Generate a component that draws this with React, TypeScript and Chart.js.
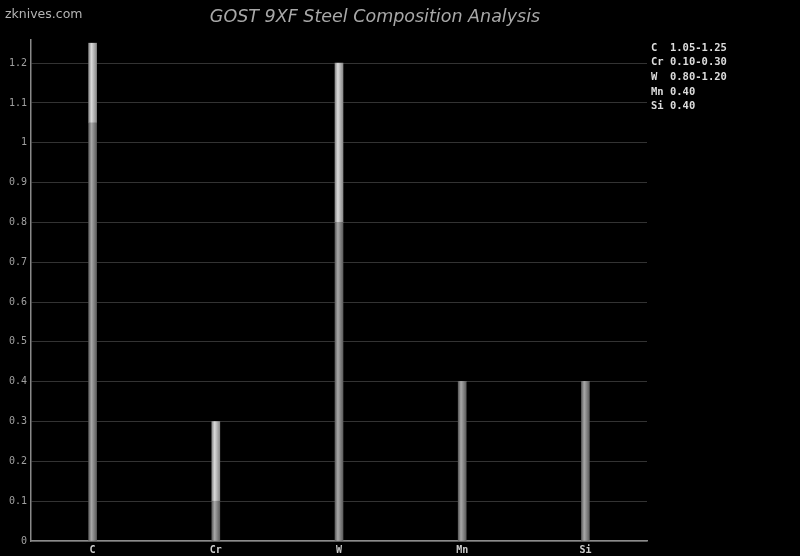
import React, { useEffect, useRef } from "react";
import { Chart, registerables } from "chart.js";

Chart.register(...registerables);

const chartTitle = "GOST 9XF Steel Composition Analysis";
const watermark = "zknives.com";
const categories = ["C", "Cr", "W", "Mn", "Si"];
const minValues = [1.05, 0.1, 0.8, 0.4, 0.4];
const maxValues = [1.25, 0.3, 1.2, 0.4, 0.4];
const legendTexts = ["1.05-1.25", "0.10-0.30", "0.80-1.20", "0.40", "0.40"];
const yTicks = [0, 0.1, 0.2, 0.3, 0.4, 0.5, 0.6, 0.7, 0.8, 0.9, 1, 1.1, 1.2];

const BAR_W = 8;

function makeGradient(ctx: any, dark: string, mid: string, light: string) {
  const chart = ctx.chart;
  const xs = chart.scales?.x;
  if (!xs || !chart.chartArea) return mid;
  const cx = xs.getPixelForValue(ctx.dataIndex);
  if (!isFinite(cx)) return mid;
  const g = chart.ctx.createLinearGradient(cx - BAR_W / 2, 0, cx + BAR_W / 2, 0);
  g.addColorStop(0, dark);
  g.addColorStop(0.35, light);
  g.addColorStop(0.6, mid);
  g.addColorStop(1, dark);
  return g;
}

const textPlugin = {
  id: "textPlugin",
  afterDraw(chart: any) {
    const c = chart.ctx;
    c.save();
    c.fillStyle = "#b4b4b4";
    c.font = "12.5px 'DejaVu Sans'";
    c.textAlign = "left";
    c.textBaseline = "alphabetic";
    c.fillText(watermark, 5, 18);
    c.fillStyle = "#a8a8a8";
    c.font = "oblique 17.5px 'DejaVu Sans'";
    c.textAlign = "center";
    c.fillText(chartTitle, 375, 22);
    c.fillStyle = "#dddddd";
    c.font = "bold 10.5px 'DejaVu Sans Mono'";
    c.textAlign = "left";
    c.textBaseline = "middle";
    categories.forEach((cat, i) => {
      const label = (cat + "  ").slice(0, 2) + " " + legendTexts[i];
      c.fillText(label, 651, 48 + i * 14.6);
    });
    c.restore();
  },
};

export default function App() {
  const ref = useRef<HTMLCanvasElement>(null);
  useEffect(() => {
    document.body.style.margin = "0";
    document.body.style.background = "#000";
    const rangeValues = maxValues.map((v, i) => +(v - minValues[i]).toFixed(4));
    const chart = new Chart(ref.current!, {
      type: "bar",
      data: {
        labels: categories,
        datasets: [
          {
            label: "min",
            data: minValues,
            barThickness: BAR_W,
            borderWidth: 0,
            backgroundColor: (ctx: any) => makeGradient(ctx, "#5e5e5e", "#8c8c8c", "#a8a8a8"),
          },
          {
            label: "range",
            data: rangeValues,
            barThickness: BAR_W,
            borderWidth: 0,
            backgroundColor: (ctx: any) => makeGradient(ctx, "#8a8a8a", "#bcbcbc", "#dadada"),
          },
        ],
      },
      options: {
        responsive: false,
        animation: false,
        layout: { padding: { top: 40, right: 153, left: 0, bottom: 0 } },
        plugins: { legend: { display: false }, tooltip: { enabled: false }, title: { display: false } },
        scales: {
          x: {
            stacked: true,
            grid: { display: false, drawTicks: false },
            border: { color: "#8a8a8a", width: 1.5 },
            ticks: { color: "#cccccc", font: { family: "'DejaVu Sans Mono'", size: 10, weight: "bold" }, padding: 3 },
            afterFit: (s: any) => { s.height = 15; },
          },
          y: {
            stacked: true,
            min: 0,
            max: 1.258,
            afterBuildTicks: (s: any) => { s.ticks = yTicks.map((v) => ({ value: v })); },
            grid: { color: "#333333", drawTicks: false, lineWidth: 1 },
            border: { color: "#8a8a8a", width: 1.5 },
            ticks: {
              color: "#a0a0a0",
              font: { family: "'DejaVu Sans Mono'", size: 10 },
              padding: 4,
              callback: (v: any) => String(+(+v).toFixed(2)),
            },
            afterFit: (s: any) => { s.width = 31; },
          },
        },
      },
      plugins: [textPlugin],
    });
    chart.update();
    return () => chart.destroy();
  }, []);
  return (
    <div style={{ position: "fixed", left: 0, top: 0, width: 800, height: 556, background: "#000" }}>
      <canvas ref={ref} width={800} height={556} />
    </div>
  );
}
